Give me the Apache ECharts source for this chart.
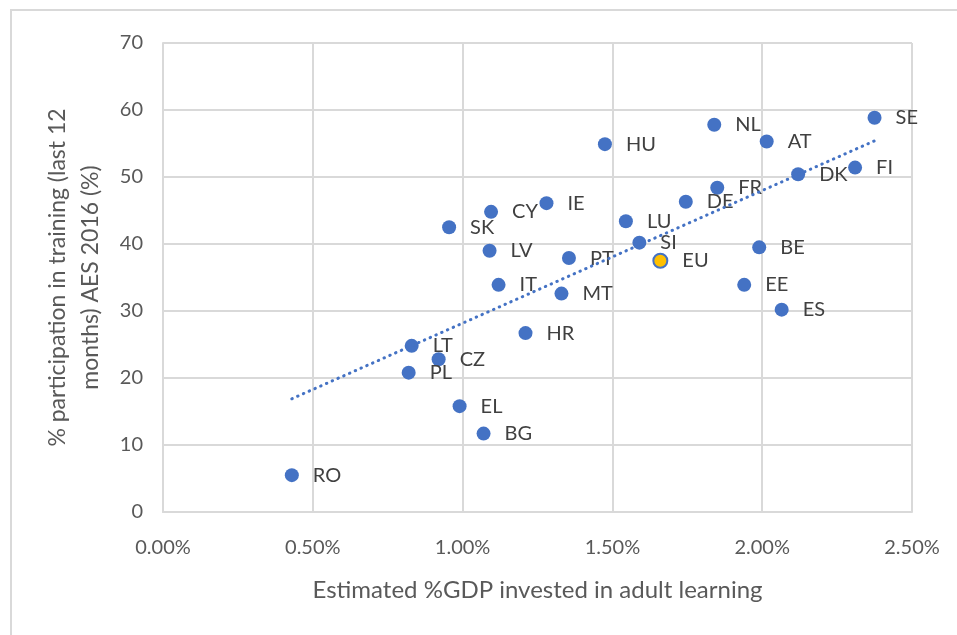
<!DOCTYPE html>
<html>
<head>
<meta charset="utf-8">
<script src="https://cdn.jsdelivr.net/npm/echarts@6/dist/echarts.min.js"></script>
<style>
html,body{margin:0;padding:0;background:#fff;}
#main{width:957px;height:635px;}
</style>
</head>
<body>
<div id="main"></div>
<script>
// Country codes
const countries = ['RO','LT','CZ','PL','EL','BG','LV','SK','CY','IT','HR','IE','HU','NL','AT','SE','FI','DK','FR','DE','LU','SI','PT','EU','BE','MT','EE','ES'];
// Estimated %GDP invested in adult learning (in %)
const gdpShare = [0.43,0.83,0.92,0.82,0.99,1.07,1.09,0.955,1.095,1.12,1.21,1.28,1.475,1.84,2.015,2.375,2.31,2.12,1.85,1.745,1.545,1.59,1.355,1.66,1.99,1.33,1.94,2.065];
// Participation in training (last 12 months) AES 2016 (%)
const participation = [5.5,24.8,22.8,20.8,15.8,11.7,39.0,42.5,44.8,33.9,26.7,46.1,54.9,57.8,55.3,58.85,51.4,50.4,48.4,46.3,43.4,40.2,37.9,37.5,39.5,32.6,33.9,30.2];
// Linear trendline endpoints
const trendX = [0.43, 2.375];
const trendY = [16.9, 55.4];
// Axis settings
const xTicks = [0, 0.5, 1.0, 1.5, 2.0, 2.5];
const yMin = 0, yMax = 70, yStep = 10;

const FONT = 'Lato';
const BLUE = '#4472C4';

const points = countries.map((c, i) => {
  const p = { name: c, value: [gdpShare[i], participation[i]] };
  if (c === 'EU') {
    p.itemStyle = { color: '#FFC000', borderColor: BLUE, borderWidth: 2, opacity: 1 };
  }
  return p;
});

const chart = echarts.init(document.getElementById('main'), null, { renderer: 'canvas' });
chart.setOption({
  animation: false,
  backgroundColor: '#fff',
  graphic: [{
    type: 'rect',
    shape: { x: 11, y: 10, width: 1000, height: 700 },
    style: { fill: 'none', stroke: '#d9d9d9', lineWidth: 2 },
    silent: true, z: -10
  }],
  grid: { left: 163, right: 45, top: 43, bottom: 123, containLabel: false },
  xAxis: {
    type: 'value',
    min: xTicks[0], max: xTicks[xTicks.length - 1], interval: xTicks[1] - xTicks[0],
    name: 'Estimated %GDP invested in adult learning',
    nameLocation: 'middle', nameGap: 66,
    nameTextStyle: { fontFamily: FONT, fontSize: 24, color: '#595959' },
    axisLine: { show: true, lineStyle: { color: '#d9d9d9', width: 2 } },
    axisTick: { show: false },
    axisLabel: { fontFamily: FONT, fontSize: 20, color: '#595959', margin: 26,
      formatter: v => v.toFixed(2) + '%' },
    splitLine: { show: true, lineStyle: { color: '#d9d9d9', width: 2 } }
  },
  yAxis: {
    type: 'value',
    min: yMin, max: yMax, interval: yStep,
    name: '% participation in training (last 12\nmonths) AES 2016 (%)',
    nameLocation: 'middle', nameGap: 56,
    nameTextStyle: { fontFamily: FONT, fontSize: 23, color: '#595959', lineHeight: 33 },
    axisLine: { show: true, lineStyle: { color: '#d9d9d9', width: 2 } },
    axisTick: { show: false },
    axisLabel: { fontFamily: FONT, fontSize: 20, color: '#595959', margin: 20 },
    splitLine: { show: true, lineStyle: { color: '#d9d9d9', width: 2 } }
  },
  series: [{
    type: 'scatter',
    z: 2,
    symbolSize: 14,
    itemStyle: { color: BLUE, opacity: 1 },
    label: {
      show: true, position: 'right', distance: 14,
      formatter: p => p.name,
      fontFamily: FONT, fontSize: 20, color: '#404040'
    },
    data: points
  }, {
    type: 'line',
    z: 3,
    symbol: 'none',
    silent: true,
    lineStyle: { color: BLUE, width: 3, type: [0.5, 5.8], cap: 'round' },
    data: trendX.map((x, i) => [x, trendY[i]])
  }]
});
</script>
</body>
</html>
